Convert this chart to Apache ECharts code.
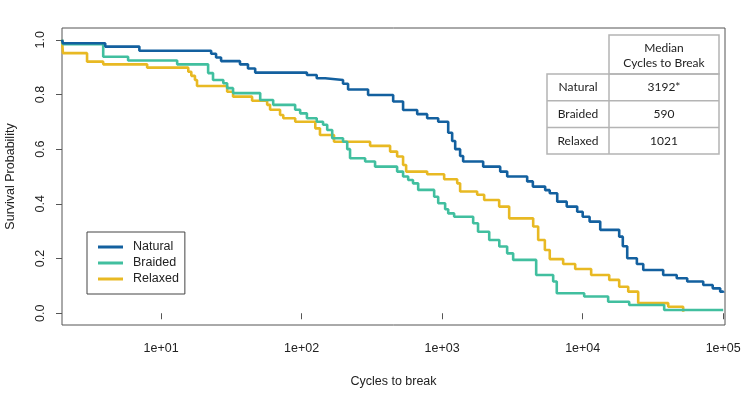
<!DOCTYPE html>
<html><head><meta charset="utf-8">
<script src="https://cdn.jsdelivr.net/npm/echarts@6/dist/echarts.min.js"></script>
<style>html,body{margin:0;padding:0;background:#fff}#c{width:742px;height:395px}</style>
</head><body><div id="c"></div>
<script>
// ---- data ----
const seriesNames = ['Natural', 'Braided', 'Relaxed'];
const xTickValues = [10, 100, 1000, 10000, 100000];
const yTickValues = [0, 0.2, 0.4, 0.6, 0.8, 1.0];

const naturalT = [1.97, 2.0, 4.0, 7.0, 22.7, 24.6, 26.7, 36.4, 41.5, 46.7, 109, 128, 147, 197, 214, 297, 448, 527, 664, 782, 937, 1104, 1178, 1238, 1342, 1410, 1958, 2588, 2903, 4027, 4420, 5408, 5830, 6590, 7700, 9140, 10000, 11200, 13330, 18190, 19300, 20750, 24300, 26980, 37400, 46700, 55450, 72100, 84200, 95200, 100000];
const naturalS = [1.0, 0.987, 0.975, 0.960, 0.949, 0.935, 0.922, 0.910, 0.895, 0.880, 0.871, 0.859, 0.853, 0.839, 0.818, 0.798, 0.774, 0.743, 0.728, 0.713, 0.700, 0.660, 0.630, 0.600, 0.575, 0.555, 0.536, 0.518, 0.500, 0.482, 0.463, 0.450, 0.439, 0.408, 0.390, 0.371, 0.353, 0.335, 0.305, 0.280, 0.245, 0.201, 0.180, 0.158, 0.140, 0.128, 0.116, 0.103, 0.091, 0.079, 0.075];

const braidedT = [1.97, 2.0, 3.87, 5.82, 13.0, 21.6, 23.4, 27.7, 29.5, 32.5, 50.7, 62.7, 89.9, 97.6, 109, 128, 142, 152, 165, 197, 211, 221, 283, 333, 478, 527, 573, 620, 675, 877, 937, 1050, 1104, 1217, 1662, 1800, 2162, 2550, 2900, 3200, 4667, 6166, 6540, 10250, 15180, 21430, 38020, 100000];
const braidedS = [1.0, 0.984, 0.938, 0.924, 0.910, 0.878, 0.853, 0.841, 0.823, 0.805, 0.780, 0.762, 0.744, 0.731, 0.713, 0.700, 0.689, 0.670, 0.640, 0.627, 0.600, 0.567, 0.555, 0.536, 0.518, 0.500, 0.487, 0.475, 0.451, 0.426, 0.402, 0.380, 0.365, 0.353, 0.329, 0.298, 0.268, 0.244, 0.219, 0.195, 0.140, 0.116, 0.073, 0.061, 0.042, 0.030, 0.012, 0.012];

const relaxedT = [1.97, 2.0, 2.97, 3.87, 7.95, 15.6, 16.4, 17.4, 18.0, 29.5, 32.5, 44.4, 56.8, 59.6, 70.2, 74, 90, 125, 135, 170, 307, 426, 478, 527, 554, 782, 1033, 1279, 1342, 1774, 1990, 2545, 2998, 4444, 4822, 5380, 5830, 7262, 8846, 11490, 15450, 18190, 21090, 24830, 40620, 51900];
const relaxedS = [1.0, 0.951, 0.920, 0.910, 0.898, 0.883, 0.868, 0.853, 0.831, 0.810, 0.792, 0.777, 0.762, 0.744, 0.725, 0.713, 0.700, 0.676, 0.652, 0.627, 0.612, 0.591, 0.573, 0.542, 0.518, 0.508, 0.490, 0.475, 0.445, 0.433, 0.414, 0.390, 0.347, 0.317, 0.268, 0.231, 0.198, 0.180, 0.162, 0.140, 0.122, 0.097, 0.079, 0.037, 0.024, 0.005];

const tableHeader = ['Median', 'Cycles to Break'];
const tableRows = ['Natural', 'Braided', 'Relaxed'];
const tableMedians = ['3192*', '590', '1021'];

// ---- chart ----
const colors = ['#13609f', '#41bf9f', '#e8b923'];
const pairs = (t, s) => t.map((v, i) => [v, s[i]]);
const seriesData = [pairs(naturalT, naturalS), pairs(braidedT, braidedS), pairs(relaxedT, relaxedS)];

const font = 'Liberation Sans, Arial, sans-serif';
const tFont = 'Lato, sans-serif';

// table geometry
const tx0 = 547, tx1 = 609, tx2 = 719;
const ty0 = 35, ty1 = 74, rowH = 26.7;
const lineStyle = { stroke: '#b4b4b4', lineWidth: 1.5, fill: null };
const graphics = [];
graphics.push({ type: 'rect', shape: { x: tx1, y: ty0, width: tx2 - tx1, height: ty1 - ty0 }, style: lineStyle, silent: true });
graphics.push({ type: 'rect', shape: { x: tx0, y: ty1, width: tx2 - tx0, height: rowH * tableRows.length }, style: lineStyle, silent: true });
graphics.push({ type: 'line', shape: { x1: tx1, y1: ty1, x2: tx1, y2: ty1 + rowH * tableRows.length }, style: lineStyle, silent: true });
for (let i = 1; i < tableRows.length; i++) {
  graphics.push({ type: 'line', shape: { x1: tx0, y1: ty1 + rowH * i, x2: tx2, y2: ty1 + rowH * i }, style: lineStyle, silent: true });
}
tableHeader.forEach((h, i) => {
  graphics.push({ type: 'text', x: (tx1 + tx2) / 2, y: 48 + i * 14.7, style: { text: h, font: '12px ' + tFont, fill: '#222', textAlign: 'center', textVerticalAlign: 'middle' }, silent: true });
});
tableRows.forEach((r, i) => {
  const cy = ty1 + rowH * i + rowH / 2;
  graphics.push({ type: 'text', x: (tx0 + tx1) / 2, y: cy, style: { text: r, font: '12px ' + tFont, fill: '#222', textAlign: 'center', textVerticalAlign: 'middle' }, silent: true });
  graphics.push({ type: 'text', x: (tx1 + tx2) / 2, y: cy, style: { text: tableMedians[i], font: '12px ' + tFont, fill: '#222', textAlign: 'center', textVerticalAlign: 'middle' }, silent: true });
});

const chart = echarts.init(document.getElementById('c'), null, { renderer: 'canvas' });
chart.setOption({
  animation: false,
  backgroundColor: '#fff',
  color: colors,
  grid: { left: 62, right: 17, top: 28, bottom: 70, containLabel: false, outerBoundsMode: 'none',
    show: true, borderColor: '#555', borderWidth: 1, backgroundColor: 'transparent' },
  legend: {
    orient: 'vertical', left: 87, top: 232,
    data: seriesNames,
    icon: 'rect', itemWidth: 25, itemHeight: 3, itemGap: 0,
    borderColor: '#444', borderWidth: 1, borderRadius: 0,
    padding: [7, 6, 7, 11],
    textStyle: { fontFamily: font, fontSize: 12.5, color: '#222', lineHeight: 16, padding: [0, 0, 0, 5] }
  },
  xAxis: {
    type: 'log', logBase: 10, min: 1.97, max: 103000,
    name: 'Cycles to break', nameLocation: 'middle', nameGap: 50,
    nameTextStyle: { fontFamily: font, fontSize: 12.5, color: '#222' },
    axisLine: { show: false },
    axisTick: { show: true, length: 6, lineStyle: { color: '#555' }, customValues: xTickValues },
    axisLabel: { fontFamily: font, fontSize: 12.5, color: '#222', margin: 17, customValues: xTickValues,
      formatter: v => '1e+0' + Math.round(Math.log10(v)) },
    splitLine: { show: false }, minorTick: { show: false }
  },
  yAxis: {
    type: 'value', min: -0.043, max: 1.043,
    name: 'Survival Probability', nameLocation: 'middle', nameGap: 45,
    nameTextStyle: { fontFamily: font, fontSize: 12.5, color: '#222' },
    axisLine: { show: false },
    axisTick: { show: true, length: 6, lineStyle: { color: '#555' }, customValues: yTickValues },
    axisLabel: { fontFamily: font, fontSize: 12.5, color: '#222', rotate: 90, margin: 15, customValues: yTickValues,
      formatter: v => v.toFixed(1) },
    splitLine: { show: false }
  },
  graphic: graphics,
  series: seriesNames.map((n, i) => ({
    name: n, type: 'line', step: 'end', showSymbol: false, symbol: 'none',
    data: seriesData[i],
    lineStyle: { width: 2.6, color: colors[i] },
    itemStyle: { color: colors[i] },
    z: 3 - i
  }))
});
</script>
</body></html>
